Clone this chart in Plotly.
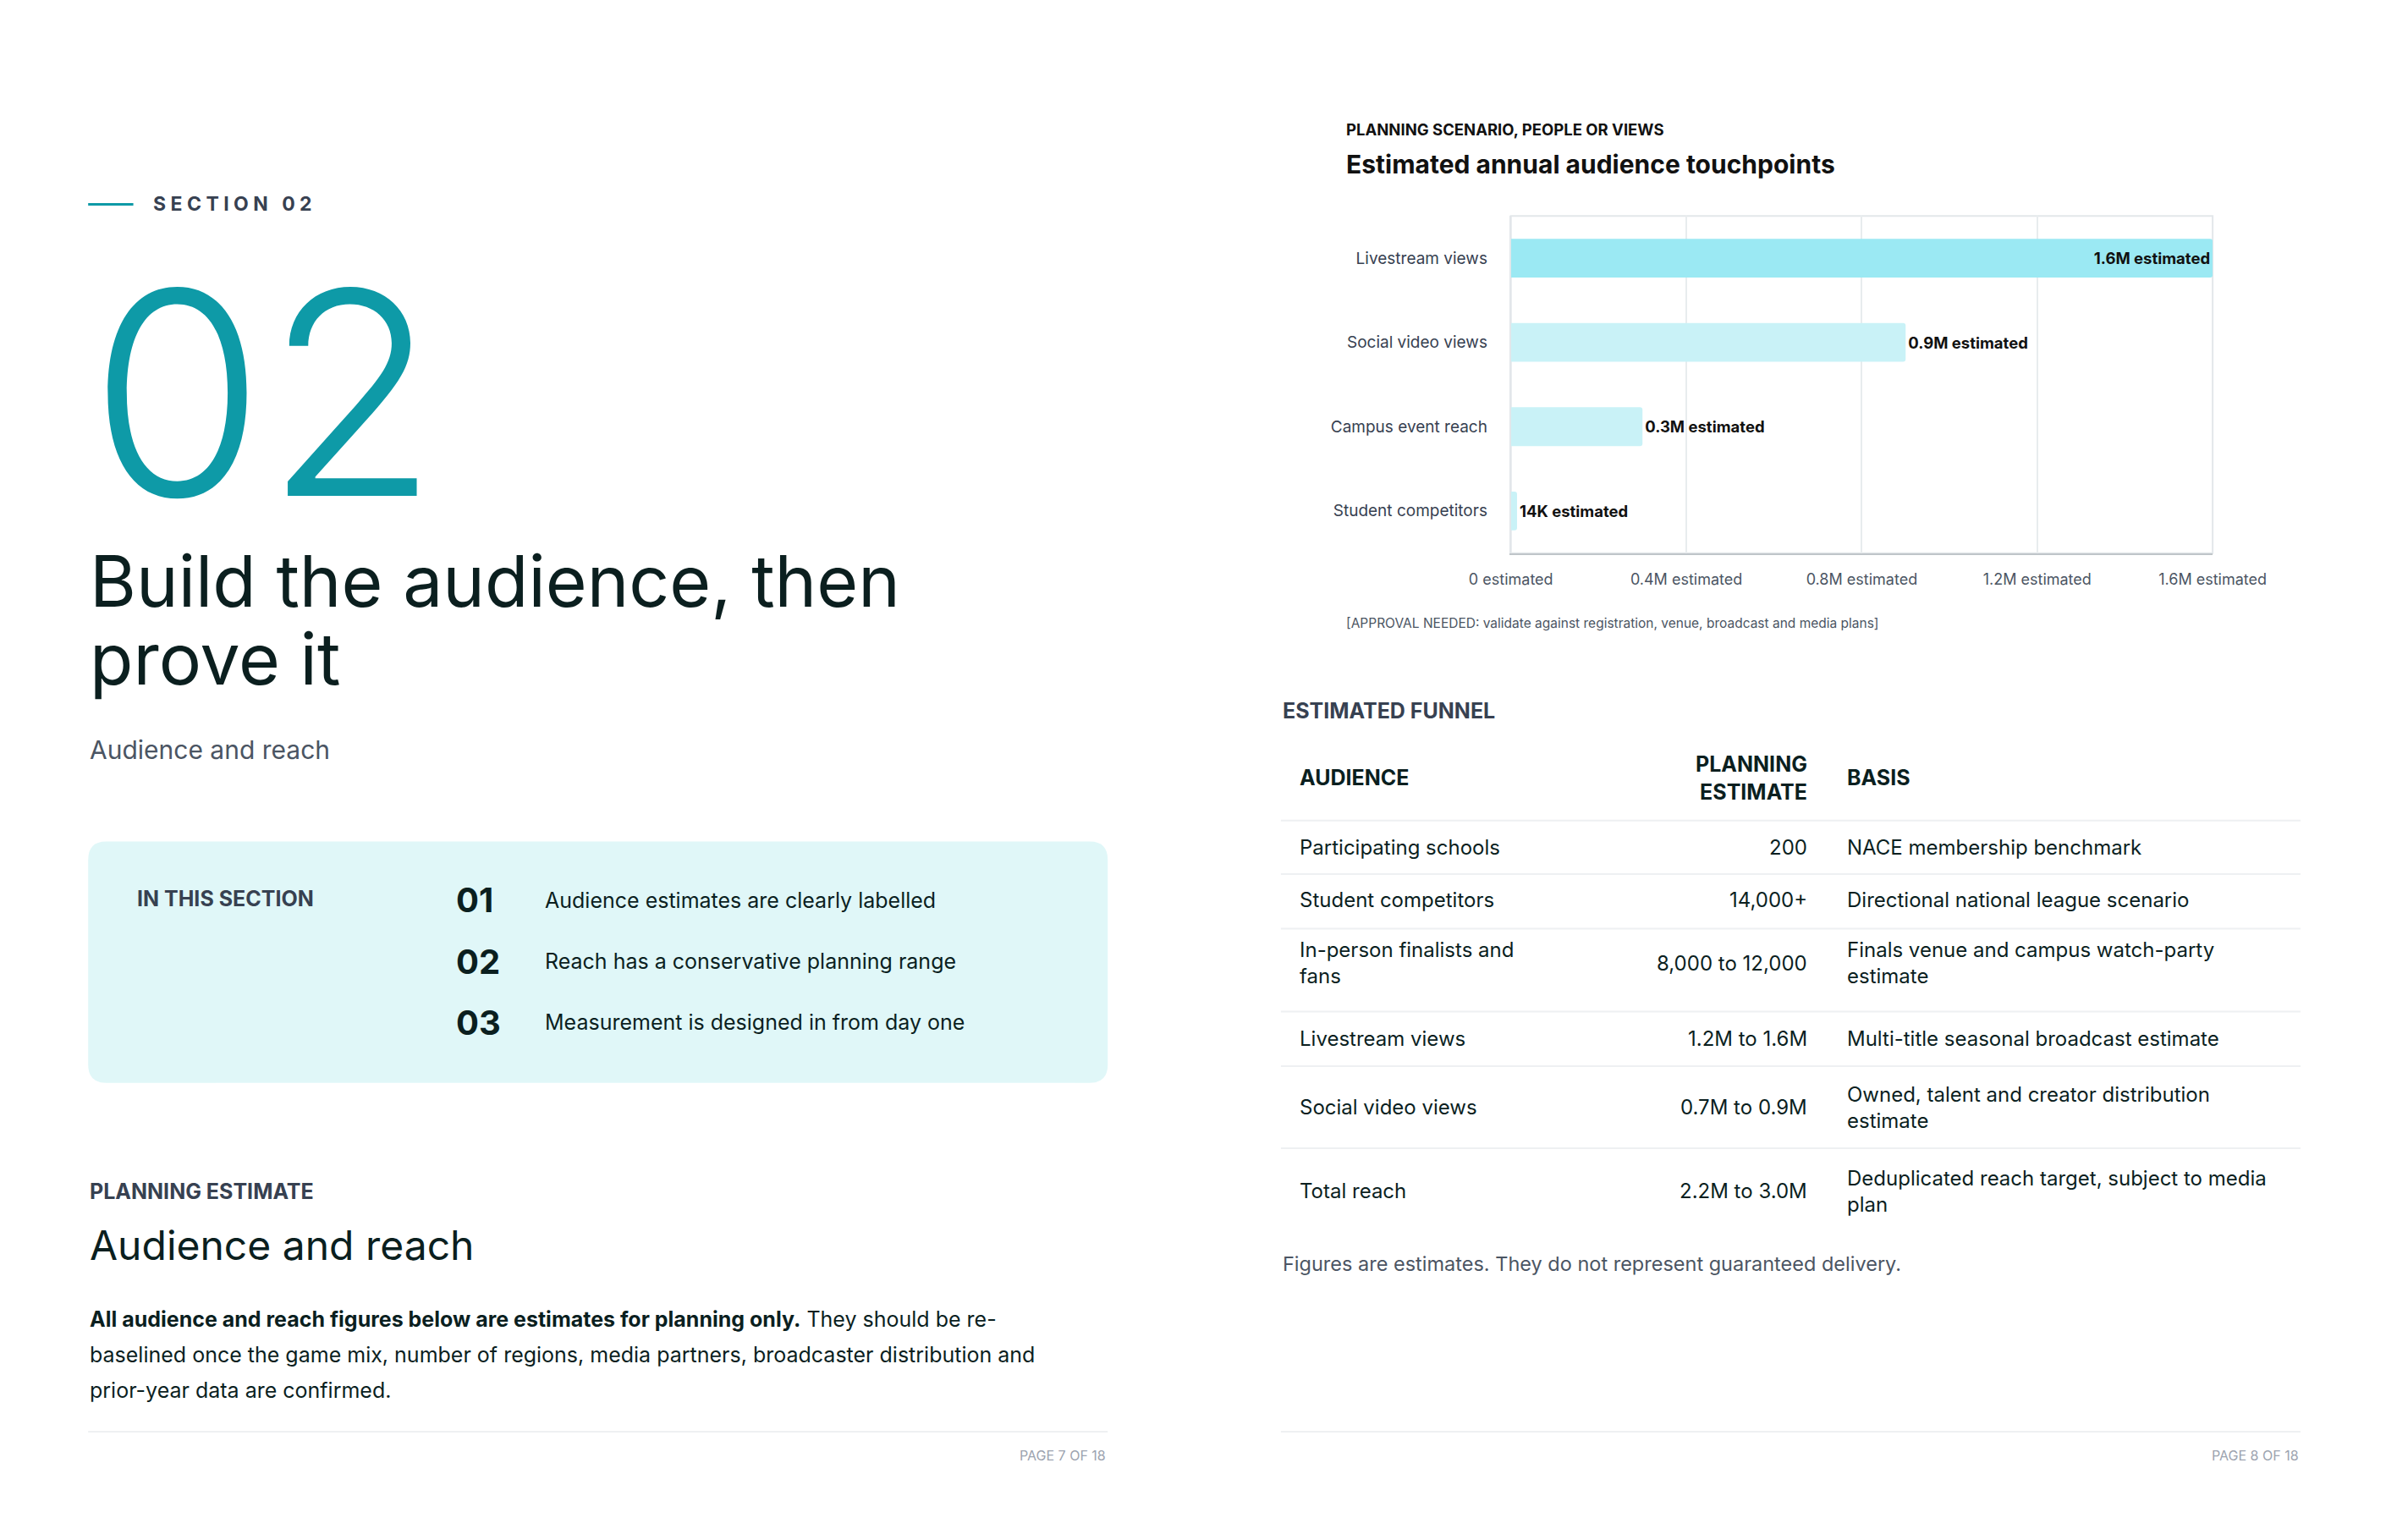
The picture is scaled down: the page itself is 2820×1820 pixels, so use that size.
import plotly.graph_objects as go

W, H = 2820, 1820

# chart data
categories = ["Livestream views", "Social video views", "Campus event reach", "Student competitors"]
values = [1600000, 900000, 300000, 14000]
value_labels = ["1.6M estimated", "0.9M estimated", "0.3M estimated", "14K estimated"]
tick_vals = [0, 400000, 800000, 1200000, 1600000]
tick_text = ["0 estimated", "0.4M estimated", "0.8M estimated", "1.2M estimated", "1.6M estimated"]

# funnel table
aud_col = ["Participating schools", "Student competitors", "In-person finalists and<br>fans",
           "Livestream views", "Social video views", "Total reach"]
est_col = ["200", "14,000+", "8,000 to 12,000", "1.2M to 1.6M", "0.7M to 0.9M", "2.2M to 3.0M"]
basis_col = ["NACE membership benchmark", "Directional national league scenario",
             "Finals venue and campus watch-party<br>estimate", "Multi-title seasonal broadcast estimate",
             "Owned, talent and creator distribution<br>estimate", "Deduplicated reach target, subject to media<br>plan"]

section_items = ["Audience estimates are clearly labelled", "Reach has a conservative planning range",
                 "Measurement is designed in from day one"]

FONT = "Inter"
DARK = "#0B1F1F"
GREY = "#4B5563"
TEAL = "#0E9AA7"


# page pixel -> paper coords (small correction measured from the first render)
def px(x):
    return (1.0302 * x - 59.0) / W


def py(y):
    return 1 - (0.9908 * y - 8.3) / H


fig = go.Figure()
fig.add_trace(go.Bar(
    x=values, y=categories, orientation="h",
    marker=dict(color=["#9BE9F3", "#C9F2F7", "#C9F2F7", "#C9F2F7"], line_width=0, cornerradius=3),
    text=value_labels, textposition=["inside", "outside", "outside", "outside"],
    insidetextanchor="end", textangle=0,
    textfont=dict(family=FONT, size=18.5, color="#111111", weight="bold"),
    width=0.46, cliponaxis=False,
))

shapes, ann = [], []


def text(x, y, s, size, color=DARK, bold=False, xanchor="left", yanchor="middle", align="left", weight=None):
    ann.append(dict(x=px(x), y=py(y), xref="paper", yref="paper", text=s, showarrow=False,
                    xanchor=xanchor, yanchor=yanchor, align=align,
                    font=dict(family=FONT, size=size, color=color,
                              weight=weight if weight else ("bold" if bold else "normal"))))


def hline(x0, x1, y, color="#EEF0F2", width=2):
    shapes.append(dict(type="line", xref="paper", yref="paper", x0=px(x0), x1=px(x1), y0=py(y), y1=py(y),
                       line=dict(color=color, width=width)))


# ---- left page
hline(104, 158, 244, TEAL, 3)
text(180, 244, "S E C T I O N   0 2", 23, "#374151", bold=True)
text(104, 469, "02", 335, TEAL, weight=300)
text(104, 693, "Build the audience, then", 84)
text(104, 786, "prove it", 84)
text(104, 895, "Audience and reach", 30, GREY)

# rounded callout box
bx0, bx1, by0, by1 = px(104), px(1323), py(1292), py(1004)
rx, ry = 22 / W, 22 / H
path = (f"M{bx0 + rx},{by0} L{bx1 - rx},{by0} Q{bx1},{by0} {bx1},{by0 + ry} "
        f"L{bx1},{by1 - ry} Q{bx1},{by1} {bx1 - rx},{by1} L{bx0 + rx},{by1} Q{bx0},{by1} {bx0},{by1 - ry} "
        f"L{bx0},{by0 + ry} Q{bx0},{by0} {bx0 + rx},{by0} Z")
shapes.append(dict(type="path", xref="paper", yref="paper", path=path,
                   fillcolor="#E0F7F8", line_width=0, layer="below"))
text(160, 1072, "IN THIS SECTION", 25, "#374151", bold=True)
for i, item in enumerate(section_items):
    yy = 1074 + i * 73
    text(542, yy, f"0{i + 1}", 40, DARK, bold=True)
    text(648, yy, item, 25, DARK)

text(104, 1421, "PLANNING ESTIMATE", 25, "#374151", bold=True)
text(104, 1485, "Audience and reach", 48)
para = ["<b>All audience and reach figures below are estimates for planning only.</b> They should be re-",
        "baselined once the game mix, number of regions, media partners, broadcaster distribution and",
        "prior-year data are confirmed."]
for i, line in enumerate(para):
    text(104, 1574 + i * 42.5, line, 25, DARK)
hline(104, 1323, 1708)
text(1323, 1736, "PAGE 7 OF 18", 16, "#9CA3AF", xanchor="right")

# ---- right page
text(1606, 155, "PLANNING SCENARIO, PEOPLE OR VIEWS", 18.5, "#111111", bold=True)
text(1606, 196, "Estimated annual audience touchpoints", 30, "#111111", bold=True)
text(1606, 744, "[APPROVAL NEEDED: validate against registration, venue, broadcast and media plans]", 15.5, GREY)

text(1530, 848, "ESTIMATED FUNNEL", 25, "#374151", bold=True)
text(1550, 928, "AUDIENCE", 25, DARK, bold=True)
text(2161, 928, "PLANNING<br>ESTIMATE", 25, DARK, bold=True, xanchor="right", align="right")
text(2205, 928, "BASIS", 25, DARK, bold=True)
row_y = [1011, 1074, 1149, 1239, 1321, 1421]
for yy, a, e, b in zip(row_y, aud_col, est_col, basis_col):
    text(1550, yy, a, 24, DARK)
    text(2161, yy, e, 24, DARK, xanchor="right")
    text(2205, yy, b, 24, DARK)
for yy in [979, 1043, 1108, 1207, 1272, 1370]:
    hline(1530, 2749, yy)
text(1530, 1508, "Figures are estimates. They do not represent guaranteed delivery.", 23.5, GREY)
hline(1530, 2749, 1708)
text(2749, 1736, "PAGE 8 OF 18", 16, "#9CA3AF", xanchor="right")

# light plot border
shapes.append(dict(type="rect", xref="paper", yref="paper", x0=px(1805), x1=px(2644), y0=py(660), y1=py(258),
                   line=dict(color="#E3E7EA", width=2), layer="below"))

fig.update_layout(
    width=W, height=H, margin=dict(l=0, r=0, t=0, b=0),
    paper_bgcolor="white", plot_bgcolor="white", showlegend=False,
    shapes=shapes, annotations=ann, bargap=0.5,
    xaxis=dict(domain=[px(1805), px(2644)], range=[0, 1600000], tickvals=tick_vals, ticktext=tick_text,
               showgrid=True, gridcolor="#E8ECEE", gridwidth=2, showline=True, linecolor="#BFC5C9",
               linewidth=2, zeroline=False, ticks="", ticklabelstandoff=14,
               tickfont=dict(family=FONT, size=18, color=GREY)),
    yaxis=dict(domain=[py(660), py(258)], autorange="reversed", showgrid=False, zeroline=False,
               showline=True, linecolor="#E3E7EA", linewidth=2, ticks="", ticklabelstandoff=22,
               tickfont=dict(family=FONT, size=19, color="#374151")),
)

fig.write_html("out.html")
